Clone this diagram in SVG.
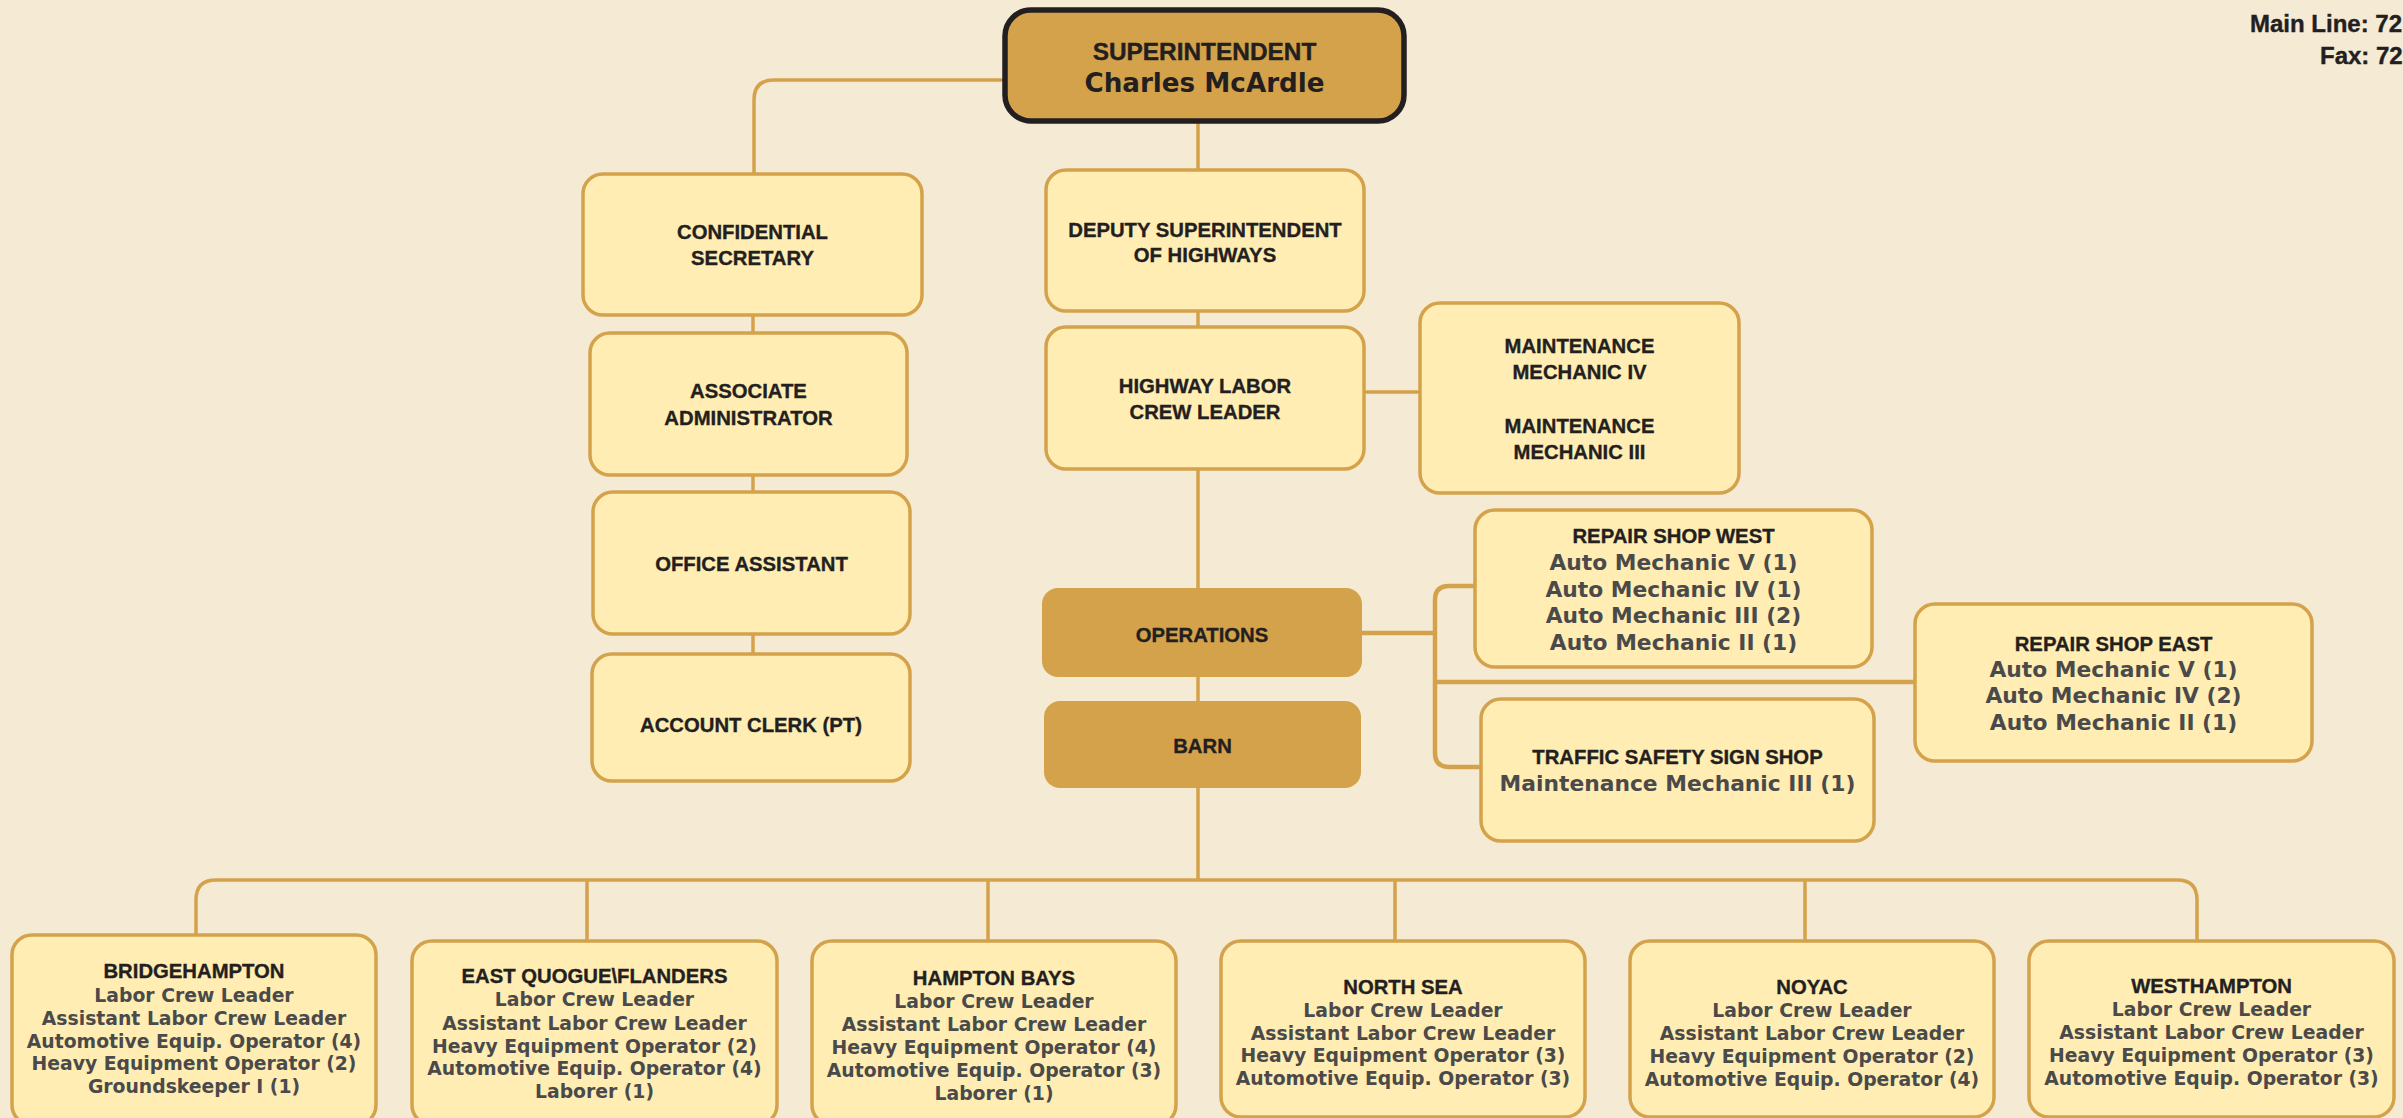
<svg xmlns="http://www.w3.org/2000/svg" width="2403" height="1118" viewBox="0 0 2403 1118">
<defs>
<style>
.bg{fill:#f5ead4}
.box{fill:#ffedb4;stroke:#d4a24b;stroke-width:3.5}
.dark{fill:#d3a24a}
.sup{fill:#d3a24a;stroke:#231f20;stroke-width:5.5}
.ln{fill:none;stroke:#d4a24b;stroke-width:3.5;stroke-linejoin:round}
.ln4{fill:none;stroke:#d4a24b;stroke-width:4.5;stroke-linejoin:round}
.t{font-family:"Liberation Sans",Arial,sans-serif;font-weight:bold;font-size:20.3px;fill:#231f20;text-anchor:middle;stroke:#231f20;stroke-width:0.35px}
.d{font-family:"DejaVu Sans",Verdana,sans-serif;font-weight:bold;font-size:18.8px;fill:#4a4a4a;text-anchor:middle}
.d2{font-family:"DejaVu Sans",Verdana,sans-serif;font-weight:bold;font-size:21.8px;fill:#4a4a4a;text-anchor:middle}
.hd{font-family:"Liberation Sans",Arial,sans-serif;font-weight:bold;font-size:24px;fill:#231f20;stroke:#231f20;stroke-width:0.4px}
</style>
</defs>
<rect class="bg" x="0" y="0" width="2403" height="1118"/>

<g id="connectors">
  <path class="ln" d="M1005,80 H774 Q754,80 754,100 V174"/>
  <path class="ln" d="M753,315 V333 M753,475 V492 M753,634 V654"/>
  <path class="ln" d="M1198,121 V170 M1198,311 V327 M1198,469 V880"/>
  <path class="ln" d="M1364,392 H1420"/>
  <path class="ln4" d="M1361,633 H1435 M1475,586 H1449 Q1435,586 1435,600 V753 Q1435,767 1449,767 H1481 M1435,682 H1915"/>
  <path class="ln" d="M196,935 V900 Q196,880 216,880 H2177 Q2197,880 2197,900 V941"/>
  <path class="ln" d="M587,880 V941 M988,880 V941 M1395,880 V941 M1805,880 V941"/>
</g>

<g id="superintendent">
  <rect class="sup" x="1005" y="10" width="399" height="111" rx="26"/>
  <text class="hd" x="1204.5" y="60" text-anchor="middle" style="font-size:24.4px">SUPERINTENDENT</text>
  <text x="1204.5" y="92" text-anchor="middle" style="font-family:'DejaVu Sans',Verdana,sans-serif;font-weight:bold;font-size:26.2px;fill:#231f20">Charles McArdle</text>
</g>

<g id="contact">
  <text class="hd" x="2250" y="32">Main Line: 72</text>
  <text class="hd" x="2320" y="64">Fax: 72</text>
</g>

<g id="confidential-secretary">
  <rect class="box" x="583" y="174" width="339" height="141" rx="20"/>
  <text class="t" x="752.5" y="239">CONFIDENTIAL</text>
  <text class="t" x="752.5" y="265">SECRETARY</text>
</g>
<g id="associate-administrator">
  <rect class="box" x="590" y="333" width="317" height="142" rx="20"/>
  <text class="t" x="748.5" y="398">ASSOCIATE</text>
  <text class="t" x="748.5" y="425">ADMINISTRATOR</text>
</g>
<g id="office-assistant">
  <rect class="box" x="593" y="492" width="317" height="142" rx="20"/>
  <text class="t" x="751.5" y="571">OFFICE ASSISTANT</text>
</g>
<g id="account-clerk">
  <rect class="box" x="592" y="654" width="318" height="127" rx="20"/>
  <text class="t" x="751" y="732">ACCOUNT CLERK (PT)</text>
</g>

<g id="deputy-superintendent">
  <rect class="box" x="1046" y="170" width="318" height="141" rx="20"/>
  <text class="t" x="1205" y="237">DEPUTY SUPERINTENDENT</text>
  <text class="t" x="1205" y="262">OF HIGHWAYS</text>
</g>
<g id="highway-labor-crew-leader">
  <rect class="box" x="1046" y="327" width="318" height="142" rx="20"/>
  <text class="t" x="1205" y="393">HIGHWAY LABOR</text>
  <text class="t" x="1205" y="419">CREW LEADER</text>
</g>
<g id="maintenance">
  <rect class="box" x="1420" y="303" width="319" height="190" rx="20"/>
  <text class="t" x="1579.5" y="353">MAINTENANCE</text>
  <text class="t" x="1579.5" y="379">MECHANIC IV</text>
  <text class="t" x="1579.5" y="433">MAINTENANCE</text>
  <text class="t" x="1579.5" y="459">MECHANIC III</text>
</g>

<g id="operations">
  <rect class="dark" x="1042" y="588" width="320" height="89" rx="16"/>
  <text class="t" x="1202" y="642">OPERATIONS</text>
</g>
<g id="barn">
  <rect class="dark" x="1044" y="701" width="317" height="87" rx="16"/>
  <text class="t" x="1202.5" y="753">BARN</text>
</g>

<g id="repair-shop-west">
  <rect class="box" x="1475" y="510" width="397" height="157" rx="20"/>
  <text class="t" x="1673.5" y="543">REPAIR SHOP WEST</text>
  <text class="d2" x="1673.5" y="570">Auto Mechanic V (1)</text>
  <text class="d2" x="1673.5" y="597">Auto Mechanic IV (1)</text>
  <text class="d2" x="1673.5" y="623">Auto Mechanic III (2)</text>
  <text class="d2" x="1673.5" y="650">Auto Mechanic II (1)</text>
</g>
<g id="repair-shop-east">
  <rect class="box" x="1915" y="604" width="397" height="157" rx="20"/>
  <text class="t" x="2113.5" y="651">REPAIR SHOP EAST</text>
  <text class="d2" x="2113.5" y="677">Auto Mechanic V (1)</text>
  <text class="d2" x="2113.5" y="703">Auto Mechanic IV (2)</text>
  <text class="d2" x="2113.5" y="730">Auto Mechanic II (1)</text>
</g>
<g id="traffic-safety-sign-shop">
  <rect class="box" x="1481" y="699" width="393" height="142" rx="20"/>
  <text class="t" x="1677.5" y="764">TRAFFIC SAFETY SIGN SHOP</text>
  <text class="d2" x="1677.5" y="791">Maintenance Mechanic III (1)</text>
</g>

<g id="bridgehampton">
  <rect class="box" x="12" y="935" width="364" height="190" rx="20"/>
  <text class="t" x="194" y="978">BRIDGEHAMPTON</text>
  <text class="d" x="194" y="1001.5">Labor Crew Leader</text>
  <text class="d" x="194" y="1024.5">Assistant Labor Crew Leader</text>
  <text class="d" x="194" y="1047.5">Automotive Equip. Operator (4)</text>
  <text class="d" x="194" y="1070">Heavy Equipment Operator (2)</text>
  <text class="d" x="194" y="1092.5">Groundskeeper I (1)</text>
</g>
<g id="east-quogue-flanders">
  <rect class="box" x="412" y="941" width="365" height="184" rx="20"/>
  <text class="t" x="594.5" y="983">EAST QUOGUE\FLANDERS</text>
  <text class="d" x="594.5" y="1006">Labor Crew Leader</text>
  <text class="d" x="594.5" y="1029.5">Assistant Labor Crew Leader</text>
  <text class="d" x="594.5" y="1052.5">Heavy Equipment Operator (2)</text>
  <text class="d" x="594.5" y="1075">Automotive Equip. Operator (4)</text>
  <text class="d" x="594.5" y="1098">Laborer (1)</text>
</g>
<g id="hampton-bays">
  <rect class="box" x="812" y="941" width="364" height="184" rx="20"/>
  <text class="t" x="994" y="985">HAMPTON BAYS</text>
  <text class="d" x="994" y="1008">Labor Crew Leader</text>
  <text class="d" x="994" y="1031">Assistant Labor Crew Leader</text>
  <text class="d" x="994" y="1054">Heavy Equipment Operator (4)</text>
  <text class="d" x="994" y="1077">Automotive Equip. Operator (3)</text>
  <text class="d" x="994" y="1100">Laborer (1)</text>
</g>
<g id="north-sea">
  <rect class="box" x="1221" y="941" width="364" height="176" rx="20"/>
  <text class="t" x="1403" y="994">NORTH SEA</text>
  <text class="d" x="1403" y="1017">Labor Crew Leader</text>
  <text class="d" x="1403" y="1039.5">Assistant Labor Crew Leader</text>
  <text class="d" x="1403" y="1062">Heavy Equipment Operator (3)</text>
  <text class="d" x="1403" y="1084.5">Automotive Equip. Operator (3)</text>
</g>
<g id="noyac">
  <rect class="box" x="1630" y="941" width="364" height="176" rx="20"/>
  <text class="t" x="1812" y="994">NOYAC</text>
  <text class="d" x="1812" y="1017">Labor Crew Leader</text>
  <text class="d" x="1812" y="1040">Assistant Labor Crew Leader</text>
  <text class="d" x="1812" y="1063">Heavy Equipment Operator (2)</text>
  <text class="d" x="1812" y="1086">Automotive Equip. Operator (4)</text>
</g>
<g id="westhampton">
  <rect class="box" x="2029" y="941" width="365" height="176" rx="20"/>
  <text class="t" x="2211.5" y="993">WESTHAMPTON</text>
  <text class="d" x="2211.5" y="1016">Labor Crew Leader</text>
  <text class="d" x="2211.5" y="1038.5">Assistant Labor Crew Leader</text>
  <text class="d" x="2211.5" y="1062">Heavy Equipment Operator (3)</text>
  <text class="d" x="2211.5" y="1085">Automotive Equip. Operator (3)</text>
</g>
</svg>
